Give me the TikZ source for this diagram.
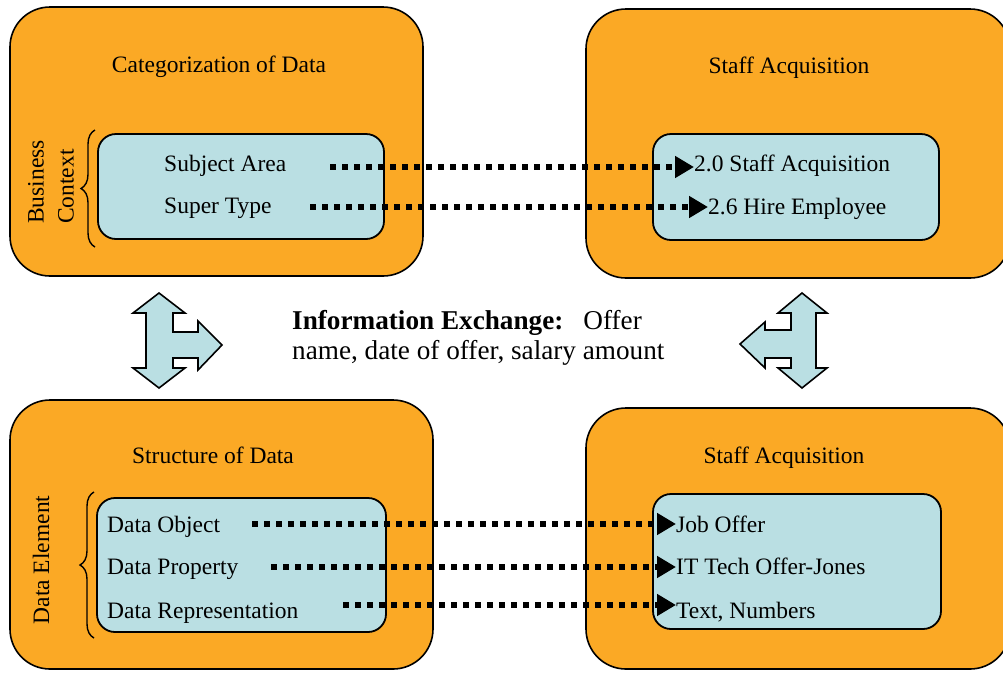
\documentclass[tikz,border=0pt]{standalone}
\usepackage{fontspec}
\setmainfont{Liberation Serif}
\usetikzlibrary{arrows.meta,decorations.pathreplacing}
\definecolor{boxorange}{RGB}{251,169,37}
\definecolor{boxblue}{RGB}{186,223,227}
\tikzset{
  outerbox/.style={draw=black,line width=1.6pt,fill=boxorange,rounded corners=40pt},
  innerbox/.style={draw=black,line width=1.8pt,fill=boxblue,rounded corners=18pt},
  blockarrow/.style={draw=black,line width=1.6pt,fill=boxblue,line join=miter},
  lbl/.style={inner sep=0pt,font=\fontsize{23.5}{30}\selectfont,anchor=base west},
  ttl/.style={inner sep=0pt,font=\fontsize{23.5}{30}\selectfont,anchor=base},
  side/.style={inner sep=0pt,font=\fontsize{23.5}{30}\selectfont,rotate=90,align=left},
  dotarr/.style={line width=6pt,dash pattern=on 6pt off 6pt,-{Triangle[length=19pt,width=21pt]}},
  bracestyle/.style={line width=1.4pt,decorate,decoration={brace,amplitude=14pt}}
}
\begin{document}
\begin{tikzpicture}[x=1pt,y=-1pt]
\useasboundingbox (0,0) rectangle (1003,673);
% outer boxes
\draw[outerbox] (10,7) rectangle (423,276);
\draw[outerbox] (586,9) rectangle (1010,278);
\draw[outerbox] (10,400) rectangle (433,669);
\draw[outerbox] (586,408) rectangle (1010,669);
% inner boxes
\draw[innerbox] (98,134) rectangle (384,239);
\draw[innerbox] (653,134) rectangle (939,240);
\draw[innerbox] (97,498) rectangle (386,632);
\draw[innerbox] (653,494) rectangle (941,629);
% titles
\node[ttl] (t1) at (219,72) {Categorization of Data};
\node[ttl] (t2) at (789,73) {Staff Acquisition};
\node[ttl] (t3) at (213,463) {Structure of Data};
\node[ttl] (t4) at (784,463) {Staff Acquisition};
% side labels and braces
\node[side] (bc) at (51,182) {Business\\Context};
\node[side] (de) at (41,560) {Data Element};
\draw[bracestyle] (95,247) -- (95,130);
\draw[bracestyle] (94,638) -- (94,492);
% item texts
\node[lbl] (sa) at (164,171) {Subject Area};
\node[lbl] (st) at (164,213) {Super Type};
\node[lbl] (s20) at (694,171) {2.0 Staff Acquisition};
\node[lbl] (s26) at (708,214) {2.6 Hire Employee};
\node[lbl] (dob) at (107,532) {Data Object};
\node[lbl] (dpr) at (107,574) {Data Property};
\node[lbl] (drp) at (107,618) {Data Representation};
\node[lbl] (job) at (676,532) {Job Offer};
\node[lbl] (itt) at (676,574) {IT Tech Offer-Jones};
\node[lbl] (txn) at (676,618) {Text, Numbers};
% connectors
\coordinate (c1) at (330,167);
\coordinate (c2) at (310,207);
\coordinate (c3) at (252,524);
\coordinate (c4) at (271,567);
\coordinate (c5) at (343,605);
\draw[dotarr] (c1) -- (c1 -| s20.west);
\draw[dotarr] (c2) -- (c2 -| s26.west);
\draw[dotarr] (c3) -- (c3 -| job.west);
\draw[dotarr] (c4) -- (c4 -| itt.west);
\draw[dotarr] (c5) -- (c5 -| txn.west);
% block arrows
\draw[blockarrow] (159,293) -- (185,313) -- (173,313) -- (173,332) -- (198,332) -- (198,321) -- (222,345) -- (198,370) -- (198,358) -- (173,358) -- (173,368) -- (185,368) -- (159,388) -- (133,368) -- (146,368) -- (146,313) -- (133,313) -- cycle;
\draw[blockarrow] (802,293) -- (827,313) -- (816,313) -- (816,368) -- (827,368) -- (802,388) -- (778,368) -- (791,368) -- (791,358) -- (765,358) -- (765,368) -- (740,344) -- (765,322) -- (765,330) -- (791,330) -- (791,313) -- (778,313) -- cycle;
% middle text
\node[inner sep=0pt,anchor=north west,align=left,font=\fontsize{27.2}{30}\selectfont] (info) at (292,310)
  {\textbf{Information Exchange:}\hspace{20pt}Offer\\name, date of offer, salary amount};
\end{tikzpicture}
\end{document}
